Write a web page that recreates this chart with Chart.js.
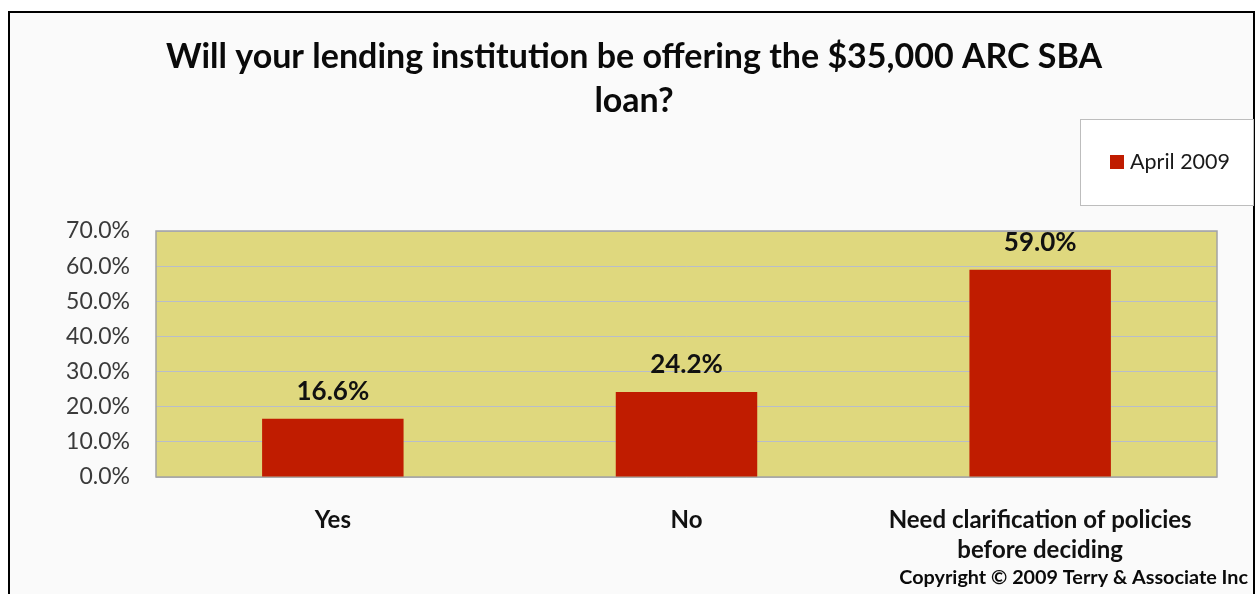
<!DOCTYPE html>
<html>
<head>
<meta charset="utf-8">
<script src="https://cdn.jsdelivr.net/npm/chart.js@4/dist/chart.umd.min.js"></script>
<style>
  html, body { margin: 0; padding: 0; background: #ffffff; }
  canvas { display: block; }
</style>
</head>
<body>
<canvas id="chart" width="1259" height="594"></canvas>
<script>
// Survey question, answers and shares (percent of respondents)
const titleLines = ['Will your lending institution be offering the $35,000 ARC SBA', 'loan?'];
const categories = ['Yes', 'No', ['Need clarification of policies', 'before deciding']];
const seriesName = 'April 2009';
const seriesValues = [16.6, 24.2, 59.0];
const yTicks = [0, 10, 20, 30, 40, 50, 60, 70];
const footerText = 'Copyright \u00A9 2009 Terry & Associate Inc';

const FONT = 'Lato, "Open Sans", "DejaVu Sans", sans-serif';
const BAR_COLOR = '#c01c00';
const PLOT_FILL = '#dfd87e';

// Frame, plot background, title, legend box and footer
const decorations = {
  id: 'decorations',
  beforeDraw(chart) {
    const ctx = chart.ctx;
    const a = chart.chartArea;
    ctx.save();
    ctx.fillStyle = '#ffffff';
    ctx.fillRect(0, 0, chart.width, chart.height);
    ctx.fillStyle = '#fafafa';
    ctx.fillRect(9, 12, 1245, chart.height);
    ctx.strokeStyle = '#000000';
    ctx.lineWidth = 2;
    ctx.strokeRect(9, 12, 1245, chart.height + 10);
    ctx.fillStyle = PLOT_FILL;
    ctx.fillRect(a.left, a.top, a.right - a.left, a.bottom - a.top);
    ctx.restore();
  },
  beforeDatasetsDraw(chart) {
    const ctx = chart.ctx;
    const a = chart.chartArea;
    ctx.save();
    ctx.strokeStyle = '#a3a3a3';
    ctx.lineWidth = 1.5;
    ctx.strokeRect(a.left, a.top, a.right - a.left, a.bottom - a.top);
    ctx.restore();
  },
  afterDatasetsDraw(chart) {
    const ctx = chart.ctx;
    const meta = chart.getDatasetMeta(0);
    const values = chart.data.datasets[0].data;
    ctx.save();
    ctx.fillStyle = '#111111';
    ctx.font = 'bold 26px ' + FONT;
    ctx.textAlign = 'center';
    ctx.textBaseline = 'middle';
    meta.data.forEach((bar, i) => {
      ctx.fillText(values[i].toFixed(1) + '%', bar.x, bar.y - 27);
    });
    ctx.restore();
  },
  afterDraw(chart) {
    const ctx = chart.ctx;
    ctx.save();
    // title
    ctx.fillStyle = '#0a0a0a';
    ctx.font = 'bold 34px ' + FONT;
    ctx.textAlign = 'center';
    ctx.textBaseline = 'alphabetic';
    titleLines.forEach((line, i) => ctx.fillText(line, 634, 68 + i * 44));

    // legend box
    const ds = chart.data.datasets[0];
    ctx.fillStyle = '#ffffff';
    ctx.fillRect(1080, 119, 173, 86);
    ctx.strokeStyle = '#bdbdbd';
    ctx.lineWidth = 1;
    ctx.strokeRect(1080.5, 119.5, 173, 86);
    ctx.fillStyle = ds.backgroundColor;
    ctx.fillRect(1110, 155, 14, 14);
    ctx.fillStyle = '#1a1a1a';
    ctx.font = '21.5px ' + FONT;
    ctx.textAlign = 'left';
    ctx.textBaseline = 'middle';
    ctx.fillText(ds.label, 1130, 162);

    // footer
    ctx.fillStyle = '#0a0a0a';
    ctx.font = 'bold 19.8px ' + FONT;
    ctx.textAlign = 'right';
    ctx.fillText(footerText, 1248, 578);
    ctx.restore();
  }
};

new Chart(document.getElementById('chart'), {
  type: 'bar',
  data: {
    labels: categories,
    datasets: [{
      label: seriesName,
      data: seriesValues,
      backgroundColor: BAR_COLOR,
      borderWidth: 0,
      categoryPercentage: 1,
      barPercentage: 0.4
    }]
  },
  options: {
    responsive: false,
    animation: false,
    devicePixelRatio: 1,
    layout: { padding: { left: 9, right: 42, top: 231, bottom: 0 } },
    plugins: {
      legend: { display: false },
      title: { display: false },
      tooltip: { enabled: false }
    },
    scales: {
      x: {
        afterFit(scale) { scale.height = 594 - 477; },
        grid: { display: false, drawTicks: false },
        border: { display: false },
        ticks: {
          color: '#111111',
          font: { family: FONT, size: 24, weight: 'bold', lineHeight: 1.25 },
          padding: 28,
          maxRotation: 0,
          autoSkip: false
        }
      },
      y: {
        min: yTicks[0],
        max: yTicks[yTicks.length - 1],
        afterFit(scale) { scale.width = 147; },
        afterBuildTicks(scale) { scale.ticks = yTicks.map(v => ({ value: v })); },
        grid: { color: '#b8bdca', lineWidth: 1, drawTicks: false },
        border: { display: false },
        ticks: {
          color: '#3a3a3a',
          font: { family: FONT, size: 23 },
          padding: 26,
          callback: v => Number(v).toFixed(1) + '%'
        }
      }
    }
  },
  plugins: [decorations]
});
</script>
</body>
</html>
